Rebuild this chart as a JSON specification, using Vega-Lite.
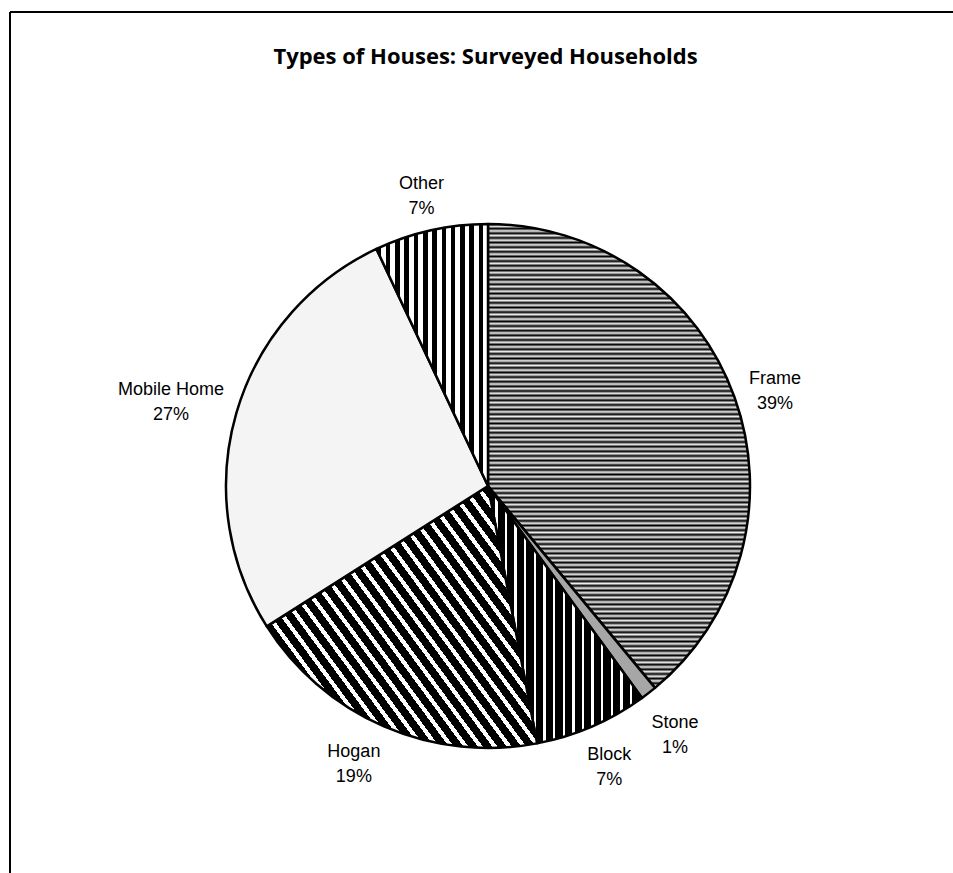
{
  "$schema": "https://vega.github.io/schema/vega-lite/v6.json",
  "width": 943,
  "height": 861,
  "autosize": {"type": "none"},
  "padding": {"left": 10, "top": 12, "right": 0, "bottom": 0},
  "background": "white",
  "view": {"stroke": "black", "strokeWidth": 2, "fill": "white", "strokeDash": [943, 1804, 861, 0]},
  "title": {
    "text": "Types of Houses: Surveyed Households",
    "font": "Open Sans",
    "fontWeight": "bold",
    "fontSize": 22,
    "color": "black",
    "anchor": "middle",
    "frame": "group",
    "baseline": "alphabetic",
    "offset": -74,
    "dx": 4
  },
  "data": {
    "values": [
      {"type": "Frame", "pct": 39},
      {"type": "Stone", "pct": 1},
      {"type": "Block", "pct": 7},
      {"type": "Hogan", "pct": 19},
      {"type": "Mobile Home", "pct": 27},
      {"type": "Other", "pct": 7}
    ]
  },
  "transform": [
    {"window": [{"op": "row_number", "as": "idx"}]},
    {"calculate": "[datum.type, datum.pct + '%']", "as": "label"}
  ],
  "encoding": {
    "theta": {"field": "pct", "type": "quantitative", "stack": true},
    "order": {"field": "idx", "type": "quantitative", "sort": "ascending"}
  },
  "layer": [
    {
      "mark": {
        "type": "arc",
        "radius": 262,
        "stroke": "black",
        "strokeWidth": 2.5,
        "strokeJoin": "round",
        "x": {"expr": "width/2 + 6.5"},
        "y": {"expr": "height/2 + 43.5"}
      },
      "encoding": {
        "fill": {
          "condition": [
            {"test": "datum.type === 'Frame'", "value": {"gradient": "linear", "x1": 0, "y1": 0, "x2": 0, "y2": 1, "stops": [
              {"offset":0,"color":"#000"},{"offset":0.005,"color":"#eee"},{"offset":0.01,"color":"#000"},{"offset":0.015,"color":"#eee"},{"offset":0.02,"color":"#000"},{"offset":0.025,"color":"#eee"},{"offset":0.03,"color":"#000"},{"offset":0.035,"color":"#eee"},{"offset":0.04,"color":"#000"},{"offset":0.045,"color":"#eee"},
              {"offset":0.05,"color":"#000"},{"offset":0.055,"color":"#eee"},{"offset":0.06,"color":"#000"},{"offset":0.065,"color":"#eee"},{"offset":0.07,"color":"#000"},{"offset":0.075,"color":"#eee"},{"offset":0.08,"color":"#000"},{"offset":0.085,"color":"#eee"},{"offset":0.09,"color":"#000"},{"offset":0.095,"color":"#eee"},
              {"offset":0.1,"color":"#000"},{"offset":0.105,"color":"#eee"},{"offset":0.11,"color":"#000"},{"offset":0.115,"color":"#eee"},{"offset":0.12,"color":"#000"},{"offset":0.125,"color":"#eee"},{"offset":0.13,"color":"#000"},{"offset":0.135,"color":"#eee"},{"offset":0.14,"color":"#000"},{"offset":0.145,"color":"#eee"},
              {"offset":0.15,"color":"#000"},{"offset":0.155,"color":"#eee"},{"offset":0.16,"color":"#000"},{"offset":0.165,"color":"#eee"},{"offset":0.17,"color":"#000"},{"offset":0.175,"color":"#eee"},{"offset":0.18,"color":"#000"},{"offset":0.185,"color":"#eee"},{"offset":0.19,"color":"#000"},{"offset":0.195,"color":"#eee"},
              {"offset":0.2,"color":"#000"},{"offset":0.205,"color":"#eee"},{"offset":0.21,"color":"#000"},{"offset":0.215,"color":"#eee"},{"offset":0.22,"color":"#000"},{"offset":0.225,"color":"#eee"},{"offset":0.23,"color":"#000"},{"offset":0.235,"color":"#eee"},{"offset":0.24,"color":"#000"},{"offset":0.245,"color":"#eee"},
              {"offset":0.25,"color":"#000"},{"offset":0.255,"color":"#eee"},{"offset":0.26,"color":"#000"},{"offset":0.265,"color":"#eee"},{"offset":0.27,"color":"#000"},{"offset":0.275,"color":"#eee"},{"offset":0.28,"color":"#000"},{"offset":0.285,"color":"#eee"},{"offset":0.29,"color":"#000"},{"offset":0.295,"color":"#eee"},
              {"offset":0.3,"color":"#000"},{"offset":0.305,"color":"#eee"},{"offset":0.31,"color":"#000"},{"offset":0.315,"color":"#eee"},{"offset":0.32,"color":"#000"},{"offset":0.325,"color":"#eee"},{"offset":0.33,"color":"#000"},{"offset":0.335,"color":"#eee"},{"offset":0.34,"color":"#000"},{"offset":0.345,"color":"#eee"},
              {"offset":0.35,"color":"#000"},{"offset":0.355,"color":"#eee"},{"offset":0.36,"color":"#000"},{"offset":0.365,"color":"#eee"},{"offset":0.37,"color":"#000"},{"offset":0.375,"color":"#eee"},{"offset":0.38,"color":"#000"},{"offset":0.385,"color":"#eee"},{"offset":0.39,"color":"#000"},{"offset":0.395,"color":"#eee"},
              {"offset":0.4,"color":"#000"},{"offset":0.405,"color":"#eee"},{"offset":0.41,"color":"#000"},{"offset":0.415,"color":"#eee"},{"offset":0.42,"color":"#000"},{"offset":0.425,"color":"#eee"},{"offset":0.43,"color":"#000"},{"offset":0.435,"color":"#eee"},{"offset":0.44,"color":"#000"},{"offset":0.445,"color":"#eee"},
              {"offset":0.45,"color":"#000"},{"offset":0.455,"color":"#eee"},{"offset":0.46,"color":"#000"},{"offset":0.465,"color":"#eee"},{"offset":0.47,"color":"#000"},{"offset":0.475,"color":"#eee"},{"offset":0.48,"color":"#000"},{"offset":0.485,"color":"#eee"},{"offset":0.49,"color":"#000"},{"offset":0.495,"color":"#eee"},
              {"offset":0.5,"color":"#000"},{"offset":0.505,"color":"#eee"},{"offset":0.51,"color":"#000"},{"offset":0.515,"color":"#eee"},{"offset":0.52,"color":"#000"},{"offset":0.525,"color":"#eee"},{"offset":0.53,"color":"#000"},{"offset":0.535,"color":"#eee"},{"offset":0.54,"color":"#000"},{"offset":0.545,"color":"#eee"},
              {"offset":0.55,"color":"#000"},{"offset":0.555,"color":"#eee"},{"offset":0.56,"color":"#000"},{"offset":0.565,"color":"#eee"},{"offset":0.57,"color":"#000"},{"offset":0.575,"color":"#eee"},{"offset":0.58,"color":"#000"},{"offset":0.585,"color":"#eee"},{"offset":0.59,"color":"#000"},{"offset":0.595,"color":"#eee"},
              {"offset":0.6,"color":"#000"},{"offset":0.605,"color":"#eee"},{"offset":0.61,"color":"#000"},{"offset":0.615,"color":"#eee"},{"offset":0.62,"color":"#000"},{"offset":0.625,"color":"#eee"},{"offset":0.63,"color":"#000"},{"offset":0.635,"color":"#eee"},{"offset":0.64,"color":"#000"},{"offset":0.645,"color":"#eee"},
              {"offset":0.65,"color":"#000"},{"offset":0.655,"color":"#eee"},{"offset":0.66,"color":"#000"},{"offset":0.665,"color":"#eee"},{"offset":0.67,"color":"#000"},{"offset":0.675,"color":"#eee"},{"offset":0.68,"color":"#000"},{"offset":0.685,"color":"#eee"},{"offset":0.69,"color":"#000"},{"offset":0.695,"color":"#eee"},
              {"offset":0.7,"color":"#000"},{"offset":0.705,"color":"#eee"},{"offset":0.71,"color":"#000"},{"offset":0.715,"color":"#eee"},{"offset":0.72,"color":"#000"},{"offset":0.725,"color":"#eee"},{"offset":0.73,"color":"#000"},{"offset":0.735,"color":"#eee"},{"offset":0.74,"color":"#000"},{"offset":0.745,"color":"#eee"},
              {"offset":0.75,"color":"#000"},{"offset":0.755,"color":"#eee"},{"offset":0.76,"color":"#000"},{"offset":0.765,"color":"#eee"},{"offset":0.77,"color":"#000"},{"offset":0.775,"color":"#eee"},{"offset":0.78,"color":"#000"},{"offset":0.785,"color":"#eee"},{"offset":0.79,"color":"#000"},{"offset":0.795,"color":"#eee"},
              {"offset":0.8,"color":"#000"},{"offset":0.805,"color":"#eee"},{"offset":0.81,"color":"#000"},{"offset":0.815,"color":"#eee"},{"offset":0.82,"color":"#000"},{"offset":0.825,"color":"#eee"},{"offset":0.83,"color":"#000"},{"offset":0.835,"color":"#eee"},{"offset":0.84,"color":"#000"},{"offset":0.845,"color":"#eee"},
              {"offset":0.85,"color":"#000"},{"offset":0.855,"color":"#eee"},{"offset":0.86,"color":"#000"},{"offset":0.865,"color":"#eee"},{"offset":0.87,"color":"#000"},{"offset":0.875,"color":"#eee"},{"offset":0.88,"color":"#000"},{"offset":0.885,"color":"#eee"},{"offset":0.89,"color":"#000"},{"offset":0.895,"color":"#eee"},
              {"offset":0.9,"color":"#000"},{"offset":0.905,"color":"#eee"},{"offset":0.91,"color":"#000"},{"offset":0.915,"color":"#eee"},{"offset":0.92,"color":"#000"},{"offset":0.925,"color":"#eee"},{"offset":0.93,"color":"#000"},{"offset":0.935,"color":"#eee"},{"offset":0.94,"color":"#000"},{"offset":0.945,"color":"#eee"},
              {"offset":0.95,"color":"#000"},{"offset":0.955,"color":"#eee"},{"offset":0.96,"color":"#000"},{"offset":0.965,"color":"#eee"},{"offset":0.97,"color":"#000"},{"offset":0.975,"color":"#eee"},{"offset":0.98,"color":"#000"},{"offset":0.985,"color":"#eee"},{"offset":0.99,"color":"#000"},{"offset":0.995,"color":"#eee"},
              {"offset":1,"color":"#000"}
            ]}},
            {"test": "datum.type === 'Stone'", "value": "#a6a6a6"},
            {"test": "datum.type === 'Block'", "value": {"gradient": "linear", "x1": 0, "y1": 0, "x2": 1, "y2": 0, "stops": [
              {"offset":0,"color":"#000"},{"offset":0.046875,"color":"#000"},{"offset":0.046875,"color":"#fff"},{"offset":0.0625,"color":"#fff"},
              {"offset":0.0625,"color":"#000"},{"offset":0.109375,"color":"#000"},{"offset":0.109375,"color":"#fff"},{"offset":0.125,"color":"#fff"},
              {"offset":0.125,"color":"#000"},{"offset":0.171875,"color":"#000"},{"offset":0.171875,"color":"#fff"},{"offset":0.1875,"color":"#fff"},
              {"offset":0.1875,"color":"#000"},{"offset":0.234375,"color":"#000"},{"offset":0.234375,"color":"#fff"},{"offset":0.25,"color":"#fff"},
              {"offset":0.25,"color":"#000"},{"offset":0.296875,"color":"#000"},{"offset":0.296875,"color":"#fff"},{"offset":0.3125,"color":"#fff"},
              {"offset":0.3125,"color":"#000"},{"offset":0.359375,"color":"#000"},{"offset":0.359375,"color":"#fff"},{"offset":0.375,"color":"#fff"},
              {"offset":0.375,"color":"#000"},{"offset":0.421875,"color":"#000"},{"offset":0.421875,"color":"#fff"},{"offset":0.4375,"color":"#fff"},
              {"offset":0.4375,"color":"#000"},{"offset":0.484375,"color":"#000"},{"offset":0.484375,"color":"#fff"},{"offset":0.5,"color":"#fff"},
              {"offset":0.5,"color":"#000"},{"offset":0.546875,"color":"#000"},{"offset":0.546875,"color":"#fff"},{"offset":0.5625,"color":"#fff"},
              {"offset":0.5625,"color":"#000"},{"offset":0.609375,"color":"#000"},{"offset":0.609375,"color":"#fff"},{"offset":0.625,"color":"#fff"},
              {"offset":0.625,"color":"#000"},{"offset":0.671875,"color":"#000"},{"offset":0.671875,"color":"#fff"},{"offset":0.6875,"color":"#fff"},
              {"offset":0.6875,"color":"#000"},{"offset":0.734375,"color":"#000"},{"offset":0.734375,"color":"#fff"},{"offset":0.75,"color":"#fff"},
              {"offset":0.75,"color":"#000"},{"offset":0.796875,"color":"#000"},{"offset":0.796875,"color":"#fff"},{"offset":0.8125,"color":"#fff"},
              {"offset":0.8125,"color":"#000"},{"offset":0.859375,"color":"#000"},{"offset":0.859375,"color":"#fff"},{"offset":0.875,"color":"#fff"},
              {"offset":0.875,"color":"#000"},{"offset":0.921875,"color":"#000"},{"offset":0.921875,"color":"#fff"},{"offset":0.9375,"color":"#fff"},
              {"offset":0.9375,"color":"#000"},{"offset":0.984375,"color":"#000"},{"offset":0.984375,"color":"#fff"},{"offset":1,"color":"#fff"}
            ]}},
            {"test": "datum.type === 'Hogan'", "value": {"gradient": "linear", "x1": 0, "y1": 1, "x2": 1.136, "y2": 0.19, "stops": [
              {"offset":0,"color":"#000"},{"offset":0.0203,"color":"#000"},{"offset":0.0203,"color":"#fff"},{"offset":0.03125,"color":"#fff"},
              {"offset":0.03125,"color":"#000"},{"offset":0.05155,"color":"#000"},{"offset":0.05155,"color":"#fff"},{"offset":0.0625,"color":"#fff"},
              {"offset":0.0625,"color":"#000"},{"offset":0.0828,"color":"#000"},{"offset":0.0828,"color":"#fff"},{"offset":0.09375,"color":"#fff"},
              {"offset":0.09375,"color":"#000"},{"offset":0.11405,"color":"#000"},{"offset":0.11405,"color":"#fff"},{"offset":0.125,"color":"#fff"},
              {"offset":0.125,"color":"#000"},{"offset":0.1453,"color":"#000"},{"offset":0.1453,"color":"#fff"},{"offset":0.15625,"color":"#fff"},
              {"offset":0.15625,"color":"#000"},{"offset":0.17655,"color":"#000"},{"offset":0.17655,"color":"#fff"},{"offset":0.1875,"color":"#fff"},
              {"offset":0.1875,"color":"#000"},{"offset":0.2078,"color":"#000"},{"offset":0.2078,"color":"#fff"},{"offset":0.21875,"color":"#fff"},
              {"offset":0.21875,"color":"#000"},{"offset":0.23905,"color":"#000"},{"offset":0.23905,"color":"#fff"},{"offset":0.25,"color":"#fff"},
              {"offset":0.25,"color":"#000"},{"offset":0.2703,"color":"#000"},{"offset":0.2703,"color":"#fff"},{"offset":0.28125,"color":"#fff"},
              {"offset":0.28125,"color":"#000"},{"offset":0.30155,"color":"#000"},{"offset":0.30155,"color":"#fff"},{"offset":0.3125,"color":"#fff"},
              {"offset":0.3125,"color":"#000"},{"offset":0.3328,"color":"#000"},{"offset":0.3328,"color":"#fff"},{"offset":0.34375,"color":"#fff"},
              {"offset":0.34375,"color":"#000"},{"offset":0.36405,"color":"#000"},{"offset":0.36405,"color":"#fff"},{"offset":0.375,"color":"#fff"},
              {"offset":0.375,"color":"#000"},{"offset":0.3953,"color":"#000"},{"offset":0.3953,"color":"#fff"},{"offset":0.40625,"color":"#fff"},
              {"offset":0.40625,"color":"#000"},{"offset":0.42655,"color":"#000"},{"offset":0.42655,"color":"#fff"},{"offset":0.4375,"color":"#fff"},
              {"offset":0.4375,"color":"#000"},{"offset":0.4578,"color":"#000"},{"offset":0.4578,"color":"#fff"},{"offset":0.46875,"color":"#fff"},
              {"offset":0.46875,"color":"#000"},{"offset":0.48905,"color":"#000"},{"offset":0.48905,"color":"#fff"},{"offset":0.5,"color":"#fff"},
              {"offset":0.5,"color":"#000"},{"offset":0.5203,"color":"#000"},{"offset":0.5203,"color":"#fff"},{"offset":0.53125,"color":"#fff"},
              {"offset":0.53125,"color":"#000"},{"offset":0.55155,"color":"#000"},{"offset":0.55155,"color":"#fff"},{"offset":0.5625,"color":"#fff"},
              {"offset":0.5625,"color":"#000"},{"offset":0.5828,"color":"#000"},{"offset":0.5828,"color":"#fff"},{"offset":0.59375,"color":"#fff"},
              {"offset":0.59375,"color":"#000"},{"offset":0.61405,"color":"#000"},{"offset":0.61405,"color":"#fff"},{"offset":0.625,"color":"#fff"},
              {"offset":0.625,"color":"#000"},{"offset":0.6453,"color":"#000"},{"offset":0.6453,"color":"#fff"},{"offset":0.65625,"color":"#fff"},
              {"offset":0.65625,"color":"#000"},{"offset":0.67655,"color":"#000"},{"offset":0.67655,"color":"#fff"},{"offset":0.6875,"color":"#fff"},
              {"offset":0.6875,"color":"#000"},{"offset":0.7078,"color":"#000"},{"offset":0.7078,"color":"#fff"},{"offset":0.71875,"color":"#fff"},
              {"offset":0.71875,"color":"#000"},{"offset":0.73905,"color":"#000"},{"offset":0.73905,"color":"#fff"},{"offset":0.75,"color":"#fff"},
              {"offset":0.75,"color":"#000"},{"offset":0.7703,"color":"#000"},{"offset":0.7703,"color":"#fff"},{"offset":0.78125,"color":"#fff"},
              {"offset":0.78125,"color":"#000"},{"offset":0.80155,"color":"#000"},{"offset":0.80155,"color":"#fff"},{"offset":0.8125,"color":"#fff"},
              {"offset":0.8125,"color":"#000"},{"offset":0.8328,"color":"#000"},{"offset":0.8328,"color":"#fff"},{"offset":0.84375,"color":"#fff"},
              {"offset":0.84375,"color":"#000"},{"offset":0.86405,"color":"#000"},{"offset":0.86405,"color":"#fff"},{"offset":0.875,"color":"#fff"},
              {"offset":0.875,"color":"#000"},{"offset":0.8953,"color":"#000"},{"offset":0.8953,"color":"#fff"},{"offset":0.90625,"color":"#fff"},
              {"offset":0.90625,"color":"#000"},{"offset":0.92655,"color":"#000"},{"offset":0.92655,"color":"#fff"},{"offset":0.9375,"color":"#fff"},
              {"offset":0.9375,"color":"#000"},{"offset":0.9578,"color":"#000"},{"offset":0.9578,"color":"#fff"},{"offset":0.96875,"color":"#fff"},
              {"offset":0.96875,"color":"#000"},{"offset":0.98905,"color":"#000"},{"offset":0.98905,"color":"#fff"},{"offset":1,"color":"#fff"}
            ]}},
            {"test": "datum.type === 'Mobile Home'", "value": "#f4f4f4"},
            {"test": "datum.type === 'Other'", "value": {"gradient": "linear", "x1": 0, "y1": 0, "x2": 1, "y2": 0, "stops": [
              {"offset":0,"color":"#000"},{"offset":0.0417,"color":"#000"},{"offset":0.0417,"color":"#fff"},{"offset":0.0833,"color":"#fff"},
              {"offset":0.0833,"color":"#000"},{"offset":0.125,"color":"#000"},{"offset":0.125,"color":"#fff"},{"offset":0.1667,"color":"#fff"},
              {"offset":0.1667,"color":"#000"},{"offset":0.2083,"color":"#000"},{"offset":0.2083,"color":"#fff"},{"offset":0.25,"color":"#fff"},
              {"offset":0.25,"color":"#000"},{"offset":0.2917,"color":"#000"},{"offset":0.2917,"color":"#fff"},{"offset":0.3333,"color":"#fff"},
              {"offset":0.3333,"color":"#000"},{"offset":0.375,"color":"#000"},{"offset":0.375,"color":"#fff"},{"offset":0.4167,"color":"#fff"},
              {"offset":0.4167,"color":"#000"},{"offset":0.4583,"color":"#000"},{"offset":0.4583,"color":"#fff"},{"offset":0.5,"color":"#fff"},
              {"offset":0.5,"color":"#000"},{"offset":0.5417,"color":"#000"},{"offset":0.5417,"color":"#fff"},{"offset":0.5833,"color":"#fff"},
              {"offset":0.5833,"color":"#000"},{"offset":0.625,"color":"#000"},{"offset":0.625,"color":"#fff"},{"offset":0.6667,"color":"#fff"},
              {"offset":0.6667,"color":"#000"},{"offset":0.7083,"color":"#000"},{"offset":0.7083,"color":"#fff"},{"offset":0.75,"color":"#fff"},
              {"offset":0.75,"color":"#000"},{"offset":0.7917,"color":"#000"},{"offset":0.7917,"color":"#fff"},{"offset":0.8333,"color":"#fff"},
              {"offset":0.8333,"color":"#000"},{"offset":0.875,"color":"#000"},{"offset":0.875,"color":"#fff"},{"offset":0.9167,"color":"#fff"},
              {"offset":0.9167,"color":"#000"},{"offset":0.9583,"color":"#000"},{"offset":0.9583,"color":"#fff"},{"offset":1,"color":"#fff"}
            ]}}
          ],
          "value": "#ffffff"
        }
      }
    },
    {
      "mark": {
        "type": "text",
        "radius": {"expr": "datum.type === 'Mobile Home' ? 330 : 305"},
        "font": "Liberation Sans",
        "fontSize": 18,
        "lineHeight": 25,
        "align": "center",
        "baseline": "middle",
        "color": "black",
        "dx": {"expr": "datum.type === 'Hogan' ? -13 : 0"},
        "dy": {"expr": "datum.type === 'Hogan' ? -14 : datum.type === 'Block' ? -11 : -4"},
        "x": {"expr": "width/2 + 6.5"},
        "y": {"expr": "height/2 + 43.5"}
      },
      "encoding": {
        "text": {"field": "label"}
      }
    }
  ]
}
